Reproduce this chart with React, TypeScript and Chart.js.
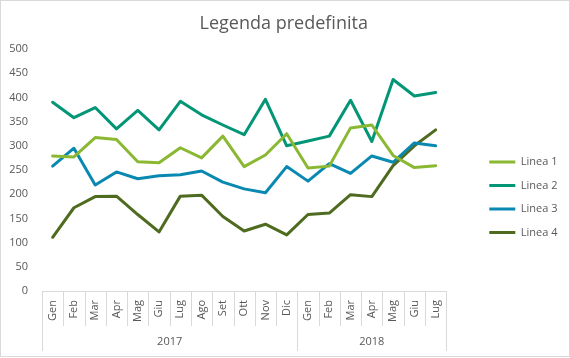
import React, { useEffect, useRef } from "react";
import { Chart, registerables } from "chart.js";

Chart.register(...registerables);

// ---- data ----
const months = ["Gen", "Feb", "Mar", "Apr", "Mag", "Giu", "Lug", "Ago", "Set", "Ott", "Nov", "Dic", "Gen", "Feb", "Mar", "Apr", "Mag", "Giu", "Lug"];
const years = ["2017", "2018"];
const yearSpans = [12, 7];
const linea1 = [279, 277, 317, 313, 267, 265, 296, 275, 320, 257, 281, 325, 254, 258, 337, 343, 280, 255, 259];
const linea2 = [390, 358, 379, 335, 373, 333, 392, 364, 343, 323, 396, 300, 310, 320, 394, 309, 437, 403, 410];
const linea3 = [258, 295, 219, 246, 232, 238, 240, 248, 225, 211, 203, 257, 227, 263, 243, 279, 266, 306, 300];
const linea4 = [111, 172, 195, 196, 158, 122, 196, 198, 154, 124, 138, 116, 158, 161, 199, 195, 259, 300, 333];
const seriesNames = ["Linea 1", "Linea 2", "Linea 3", "Linea 4"];
const seriesValues = [linea1, linea2, linea3, linea4];
const seriesColors = ["#8AB833", "#029676", "#0989B1", "#4E6B1F"];
const yMin = 0;
const yMax = 500;
const yStep = 50;
const titleText = "Legenda predefinita";

const FONT = '"Open Sans", "Noto Sans", sans-serif';
const TEXT_COLOR = "#595959";
const LINE_COLOR = "#D9D9D9";

const multiLevelAxis = {
  id: "multiLevelAxis",
  beforeDraw(chart: any) {
    const { ctx, width, height } = chart;
    ctx.save();
    ctx.fillStyle = "#ffffff";
    ctx.fillRect(0, 0, width, height);
    ctx.restore();
  },
  afterDraw(chart: any) {
    const { ctx, chartArea } = chart;
    const x = chart.scales.x;
    const bottom = chartArea.bottom;
    const step = x.getPixelForValue(1) - x.getPixelForValue(0);
    ctx.save();
    ctx.strokeStyle = LINE_COLOR;
    ctx.lineWidth = 1;
    const yearBounds = new Set<number>();
    let acc = 0;
    yearBounds.add(0);
    yearSpans.forEach((s) => {
      acc += s;
      yearBounds.add(acc);
    });
    for (let i = 0; i <= months.length; i++) {
      const px = Math.round(x.getPixelForValue(i) - step / 2) + 0.5;
      const end = yearBounds.has(i) ? bottom + 60 : bottom + 35;
      ctx.beginPath();
      ctx.moveTo(px, bottom);
      ctx.lineTo(px, end);
      ctx.stroke();
    }
    ctx.fillStyle = TEXT_COLOR;
    ctx.font = `11px ${FONT}`;
    months.forEach((m, i) => {
      ctx.save();
      ctx.translate(x.getPixelForValue(i), bottom + 9);
      ctx.rotate(-Math.PI / 2);
      ctx.textAlign = "right";
      ctx.textBaseline = "middle";
      ctx.fillText(m, 0, 0);
      ctx.restore();
    });
    let start = 0;
    years.forEach((yr, k) => {
      const end = start + yearSpans[k];
      const cx = (x.getPixelForValue(start) + x.getPixelForValue(end - 1)) / 2;
      ctx.textAlign = "center";
      ctx.textBaseline = "middle";
      ctx.fillText(yr, cx, bottom + 51);
      start = end;
    });
    ctx.strokeRect(0.5, 0.5, chart.width - 1, chart.height - 2);
    ctx.restore();
  },
};

export default function App() {
  const ref = useRef<HTMLCanvasElement | null>(null);

  useEffect(() => {
    if (!ref.current) return;
    const chart = new Chart(ref.current, {
      type: "line",
      data: {
        labels: months,
        datasets: seriesNames.map((name, i) => ({
          label: name,
          data: seriesValues[i],
          borderColor: seriesColors[i],
          backgroundColor: seriesColors[i],
          borderWidth: 3,
          pointRadius: 0,
          pointHoverRadius: 0,
          tension: 0,
          fill: false,
          borderJoinStyle: "round" as const,
          borderCapStyle: "round" as const,
        })),
      },
      options: {
        responsive: false,
        animation: false,
        events: [],
        devicePixelRatio: 1,
        layout: { padding: { left: 0, right: 2.5, top: 0, bottom: 0 } },
        scales: {
          x: {
            type: "category",
            offset: true,
            grid: { display: false },
            border: { display: true, color: LINE_COLOR, width: 1 },
            ticks: { display: false },
            afterFit: (s: any) => {
              s.height = 67;
            },
          },
          y: {
            type: "linear",
            min: yMin,
            max: yMax,
            grid: { display: false, drawTicks: false },
            border: { display: false },
            ticks: {
              stepSize: yStep,
              color: TEXT_COLOR,
              padding: 14,
              font: { family: FONT, size: 11 },
            },
            afterFit: (s: any) => {
              s.width = 42;
            },
          },
          spacer: {
            type: "linear",
            position: "right",
            display: true,
            grid: { display: false, drawTicks: false },
            border: { display: false },
            ticks: { display: false },
            afterFit: (s: any) => {
              s.width = 30.5;
            },
          },
        },
        plugins: {
          title: {
            display: true,
            text: titleText,
            color: TEXT_COLOR,
            font: { family: FONT, size: 18, weight: "normal" as const },
            padding: { top: 13, bottom: 14.4 },
          },
          legend: {
            display: true,
            position: "right",
            title: { display: true, text: "", padding: 11 },
            labels: {
              boxWidth: 26,
              boxHeight: 3,
              padding: 12.5,
              color: TEXT_COLOR,
              font: { family: FONT, size: 11 },
              generateLabels: (c: any) =>
                (Chart.defaults.plugins.legend.labels.generateLabels as any)(c).map((l: any) => ({
                  ...l,
                  lineWidth: 0,
                  fillStyle: l.strokeStyle,
                })),
            },
          },
          tooltip: { enabled: false },
        },
      },
      plugins: [multiLevelAxis],
    } as any);
    return () => chart.destroy();
  }, []);

  return (
    <div style={{ position: "absolute", left: 0, top: 0, width: 570, height: 358 }}>
      <canvas ref={ref} width={570} height={358} style={{ display: "block" }} />
    </div>
  );
}
